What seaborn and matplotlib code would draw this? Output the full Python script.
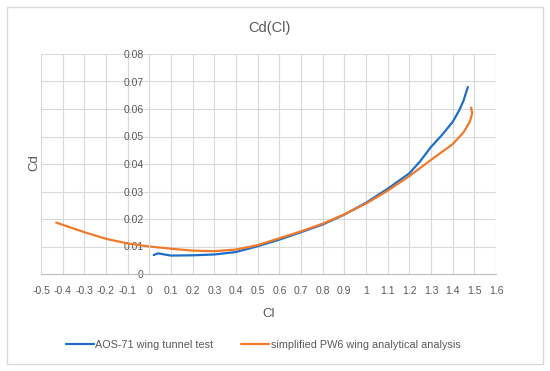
import numpy as np
import pandas as pd
import seaborn as sns
from matplotlib import pyplot as plt
from matplotlib.patches import Rectangle
from matplotlib.ticker import FuncFormatter, MultipleLocator

# AOS-71 wing tunnel test
cl_test = [0.02, 0.04, 0.07, 0.10, 0.20, 0.30, 0.40, 0.50, 0.60, 0.70, 0.80,
           0.90, 1.00, 1.10, 1.20, 1.25, 1.30, 1.35, 1.40, 1.43, 1.45, 1.47]
cd_test = [0.0069, 0.0075, 0.0071, 0.0067, 0.0068, 0.0071, 0.0080, 0.0101,
           0.0125, 0.0152, 0.0180, 0.0216, 0.0259, 0.0310, 0.0366, 0.0410,
           0.0462, 0.0505, 0.0553, 0.0595, 0.0630, 0.0680]

# simplified PW6 wing analytical analysis
cl_calc = [-0.43, -0.30, -0.20, -0.10, 0.00, 0.10, 0.20, 0.30, 0.40, 0.50,
           0.60, 0.70, 0.80, 0.90, 1.00, 1.10, 1.20, 1.30, 1.40, 1.45, 1.48,
           1.49, 1.485]
cd_calc = [0.0187, 0.0152, 0.0128, 0.0111, 0.0100, 0.0092, 0.0085, 0.0083,
           0.0089, 0.0105, 0.0130, 0.0155, 0.0183, 0.0217, 0.0256, 0.0303,
           0.0356, 0.0415, 0.0472, 0.0515, 0.0555, 0.0585, 0.0605]

series_names = ['AOS-71 wing tunnel test', 'simplified PW6 wing analytical analysis']
series_colors = ['#1F6FC8', '#F07A2A']

df = pd.concat([
    pd.DataFrame({'Cl': cl_test, 'Cd': cd_test, 'series': series_names[0]}),
    pd.DataFrame({'Cl': cl_calc, 'Cd': cd_calc, 'series': series_names[1]}),
], ignore_index=True)

sns.set_style('white')
plt.rcParams['font.family'] = ['Liberation Sans', 'DejaVu Sans']
text_col = '#595959'
grid_col = '#d9d9d9'

fig = plt.figure(figsize=(5.5, 3.71), dpi=100)
ax = fig.add_axes([41 / 550, 1 - 274 / 371, 455 / 550, 220 / 371])

sns.lineplot(data=df, x='Cl', y='Cd', hue='series', hue_order=series_names,
             palette=series_colors, sort=False, estimator=None, lw=1.6,
             ax=ax, legend=True)

ax.set_xlim(-0.5, 1.6)
ax.set_ylim(0, 0.08)
ax.xaxis.set_major_locator(MultipleLocator(0.1))
ax.yaxis.set_major_locator(MultipleLocator(0.01))
ax.xaxis.set_major_formatter(FuncFormatter(lambda v, p: f'{round(v, 2):g}'))
ax.yaxis.set_major_formatter(FuncFormatter(lambda v, p: f'{round(v, 3):g}'))
ax.grid(True, color=grid_col, lw=0.8)
ax.set_axisbelow(True)

for side in ['top', 'right']:
    ax.spines[side].set_visible(False)
ax.spines['left'].set_position(('data', 0))
ax.spines['left'].set_color(grid_col)
ax.spines['bottom'].set_color('#bfbfbf')
ax.tick_params(axis='both', length=0, labelsize=7.5, labelcolor=text_col)
ax.tick_params(axis='x', pad=9)
ax.tick_params(axis='y', pad=4)

ax.set_xlabel('Cl', fontsize=9.5, color=text_col, labelpad=8)
ax.set_ylabel('', fontsize=9)
fig.text(34 / 550, 1 - 163 / 371, 'Cd', rotation=90, ha='center', va='center',
         fontsize=9.5, color=text_col)
fig.text(269 / 550, 1 - 28 / 371, 'Cd(Cl)', ha='center', va='center',
         fontsize=10.5, color=text_col)

handles, labels = ax.get_legend_handles_labels()
ax.get_legend().remove()
fig.legend(handles, labels, loc='center', bbox_to_anchor=(263 / 550, 1 - 345 / 371),
           ncol=2, frameon=False, fontsize=7.8, labelcolor=text_col,
           handlelength=2.6, handletextpad=0.1, columnspacing=2.6)

fig.patches.append(Rectangle((7 / 550, 7 / 371), 536 / 550, 357 / 371,
                             transform=fig.transFigure, fill=False,
                             edgecolor=grid_col, lw=1))

fig.savefig('out.png', dpi=100)
